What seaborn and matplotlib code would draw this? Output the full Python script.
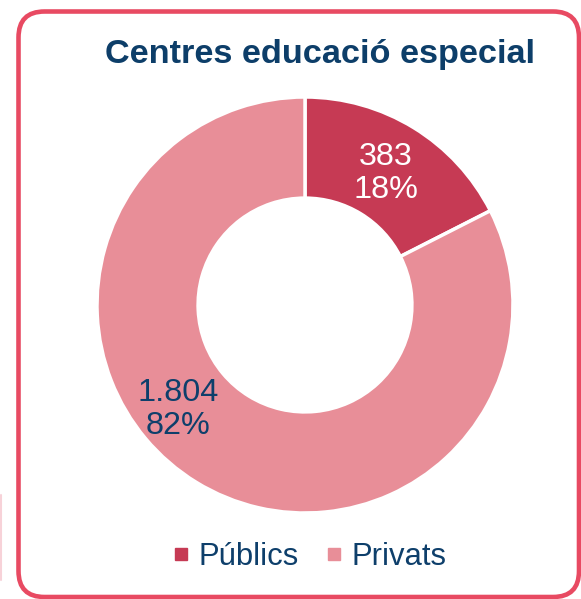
import numpy as np
import matplotlib
matplotlib.use("Agg")
import matplotlib.pyplot as plt
import seaborn as sns
from matplotlib.patches import FancyBboxPatch
from matplotlib.lines import Line2D

# dades
categories = ["Públics", "Privats"]
values = [383, 1804]
value_labels = ["383", "1.804"]
pct_labels = ["18%", "82%"]
colors = ["#C63A54", "#E88E98"]
label_colors = ["white", "#0E3F6B"]

sns.set_theme(style="white")
plt.rcParams['font.family'] = ['Liberation Sans', 'DejaVu Sans']

fig = plt.figure(figsize=(5.81, 5.99), dpi=100)

# marc arrodonit
frame = FancyBboxPatch((18.5, 2), 560.5, 585.5,
                       boxstyle="round,pad=0,rounding_size=26",
                       transform=None, facecolor="none",
                       edgecolor="#E84A62", linewidth=3.3)
fig.patches.append(frame)
fig.lines.append(Line2D([1, 1], [19, 104], transform=None,
                        color="#F7D2D8", linewidth=1.5))

# donut
ax = fig.add_axes([97 / 581, 86 / 599, 416 / 581, 416 / 599])
wedges, _ = ax.pie(values, colors=colors, startangle=90, counterclock=False,
                   radius=1, wedgeprops=dict(width=0.486, edgecolor="white", linewidth=2.5))
ax.set_xlim(-1, 1)
ax.set_ylim(-1, 1)
ax.axis("off")

# etiquetes
total = sum(values)
label_angle_offset = [0, 19]
label_radius = [0.74, 0.79]
start = 90
for i, v in enumerate(values):
    span = 360 * v / total
    mid = start - span / 2 - label_angle_offset[i]
    start -= span
    x = label_radius[i] * np.cos(np.radians(mid))
    y = label_radius[i] * np.sin(np.radians(mid))
    ax.text(x, y, f"{value_labels[i]}\n{pct_labels[i]}", ha="center", va="center",
            fontsize=23.3, color=label_colors[i], linespacing=1.12)

fig.text(320 / 581, 1 - 55 / 599, "Centres educació especial", ha="center", va="center",
         fontsize=24.7, fontweight="bold", color="#0D3E69")

handles = [Line2D([0], [0], marker="s", linestyle="none", markersize=8,
                  markerfacecolor=c, markeredgecolor=c) for c in colors]
fig.legend(handles, categories, loc="center", bbox_to_anchor=(307 / 581, 1 - 557 / 599),
           ncol=2, frameon=False, fontsize=22.3, labelcolor="#0E3F6B",
           handletextpad=0.1, columnspacing=0.7, handlelength=0.9)

fig.savefig("out.png", dpi=100)
plt.close(fig)
